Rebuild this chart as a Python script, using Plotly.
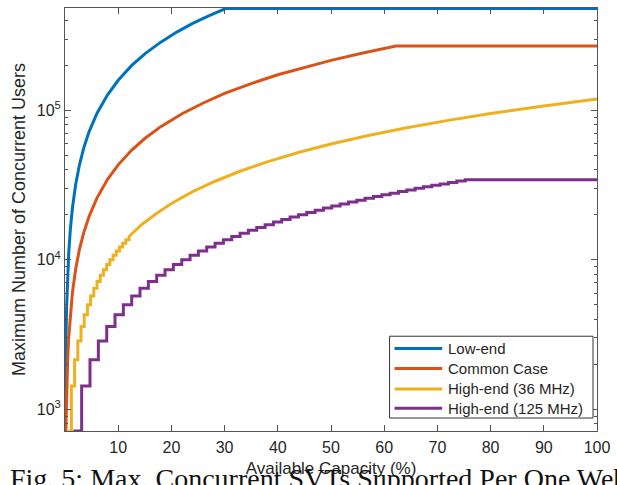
import plotly.graph_objects as go

# ---------------- data ----------------
# Low-end
low_x = [0.045, 0.07, 0.1, 0.15, 0.2, 0.3, 0.4, 0.5, 0.7, 1, 1.4, 2, 2.7, 3.5, 4.5, 6, 8, 10,
         12.5, 15, 18, 21, 24, 27, 30.2, 100]
low_y = [716, 1110, 1590, 2390, 3180, 4770, 6360, 7950, 11100, 15900, 22300, 31800, 42900, 55700,
         71600, 95400, 127000, 159000, 199000, 239000, 286000, 334000, 382000, 429000, 480000, 480000]

# Common Case
com_x = [0.166, 0.25, 0.35, 0.5, 0.7, 1, 1.4, 2, 2.7, 3.5, 4.5, 6, 8, 10, 12.5, 15, 18, 22, 26, 30,
         35, 40, 45, 50, 56, 62.2, 100]
com_y = [716, 1080, 1510, 2160, 3020, 4320, 6050, 8640, 11700, 15100, 19400, 25900, 34600, 43200,
         54000, 64800, 77800, 95000, 112000, 130000, 151000, 173000, 194000, 216000, 242000,
         269000, 269000]

# High-end (36 MHz): visible steps at low capacity, then the upper part of the curve
hi36_step_x = [0.60, 1.20, 1.81, 2.41, 3.01, 3.61, 4.21, 4.82, 5.42, 6.02, 6.62, 7.22, 7.83,
               8.43, 9.03, 9.63, 10.23, 10.84, 11.44, 12.04]
hi36_step_y = [716, 1432, 2148, 2864, 3580, 4296, 5012, 5728, 6444, 7160, 7876, 8592, 9308,
               10024, 10740, 11456, 12172, 12888, 13604, 14320]
hi36_tail_x = [13, 14.5, 17, 20, 24, 28, 33, 38, 44, 50, 57, 64, 72, 80, 90, 100]
hi36_tail_y = [15500, 17300, 20200, 23800, 28600, 33300, 39300, 45200, 52400, 59500, 67800,
               76200, 85700, 95200, 107000, 119000]

# High-end (125 MHz): staircase
hi125_x = [1.57, 3.13, 4.70, 6.27, 7.84, 9.40, 10.97, 12.54, 14.10, 15.67, 17.24, 18.80, 20.37,
           21.94, 23.51, 25.07, 26.64, 28.21, 29.77, 31.34, 32.91, 34.47, 36.04, 37.61, 39.18,
           40.74, 42.31, 43.88, 45.44, 47.01, 48.58, 50.14, 51.71, 53.28, 54.85, 56.41, 57.98,
           59.55, 61.11, 62.68, 64.25, 65.81, 67.38, 68.95, 70.52, 72.08, 73.65, 75.22, 100]
hi125_y = [716, 1432, 2148, 2864, 3580, 4296, 5012, 5728, 6444, 7160, 7876, 8592, 9308, 10024,
           10740, 11456, 12172, 12888, 13604, 14320, 15036, 15752, 16468, 17184, 17900, 18616,
           19332, 20048, 20764, 21480, 22196, 22912, 23628, 24344, 25060, 25776, 26492, 27208,
           27924, 28640, 29356, 30072, 30788, 31504, 32220, 32936, 33652, 34368, 34368]

names = ["Low-end", "Common Case", "High-end (36 MHz)", "High-end (125 MHz)"]
colors = ["#0072BD", "#D95319", "#EDB120", "#7E2F8E"]

x_ticks = [10, 20, 30, 40, 50, 60, 70, 80, 90, 100]
y_ticks = [1000, 10000, 100000]
y_ticktext = ["10<sup>3</sup>", "10<sup>4</sup>", "10<sup>5</sup>"]
y_minor = [800, 900] + [m * 1000 for m in range(2, 10)] + [m * 10000 for m in range(2, 10)] + \
          [200000, 300000, 400000]

# build the 36 MHz staircase path from the step readings
h36x, h36y = [], []
prev = None
for sx, sy in zip(hi36_step_x, hi36_step_y):
    if prev is not None:
        h36x.append(sx)
        h36y.append(prev)
    h36x.append(sx)
    h36y.append(sy)
    prev = sy
h36x += hi36_tail_x
h36y += hi36_tail_y

fig = go.Figure()
fig.add_trace(go.Scatter(x=low_x, y=low_y, mode="lines", name=names[0],
                         line=dict(color=colors[0], width=3)))
fig.add_trace(go.Scatter(x=com_x, y=com_y, mode="lines", name=names[1],
                         line=dict(color=colors[1], width=3)))
fig.add_trace(go.Scatter(x=h36x, y=h36y, mode="lines", name=names[2],
                         line=dict(color=colors[2], width=3)))
fig.add_trace(go.Scatter(x=hi125_x, y=hi125_y, mode="lines", name=names[3],
                         line=dict(color=colors[3], width=3, shape="hv")))

axcol = "#555555"
fontfam = "Liberation Sans, Arial, sans-serif"
W, H = 617, 485
ml, mr, mt, mb = 65, 16, 7, 54
pw, ph = W - ml - mr, H - mt - mb


def px(xp):
    return (xp - ml) / pw


def py(yp):
    return (H - mb - yp) / ph


fig.update_layout(
    width=W, height=H,
    margin=dict(l=ml, r=mr, t=mt, b=mb),
    paper_bgcolor="white", plot_bgcolor="white",
    font=dict(family=fontfam, size=16, color="#262626"),
    showlegend=False,
)
fig.update_xaxes(
    range=[0, 100], tickmode="array", tickvals=x_ticks,
    ticks="inside", ticklen=6, tickcolor=axcol, showline=True, linecolor=axcol, linewidth=1,
    mirror="ticks", showgrid=False, zeroline=False,
    title=dict(text="Available Capacity (%)", font=dict(size=17), standoff=6),
    tickfont=dict(size=16), ticklabelstandoff=2,
)
fig.update_yaxes(
    type="log", range=[2.8549, 5.6848], tickmode="array", tickvals=y_ticks, ticktext=y_ticktext,
    ticks="inside", ticklen=6, tickcolor=axcol, showline=True, linecolor=axcol, linewidth=1,
    mirror="ticks", showgrid=False, zeroline=False,
    minor=dict(tickmode="array", tickvals=y_minor, ticks="inside", ticklen=3, tickcolor=axcol,
               showgrid=False),
    title=dict(text="Maximum Number of Concurrent Users", font=dict(size=18), standoff=6),
    tickfont=dict(size=16),
)

# legend box drawn in the lower right corner of the axes
fig.add_shape(type="rect", xref="paper", yref="paper",
              x0=px(392), x1=px(597), y0=py(418), y1=py(336),
              line=dict(color="#333333", width=1), fillcolor="white", layer="above")
rows = [348.3, 368.3, 388.8, 408.3]
for name, col, r in zip(names, colors, rows):
    fig.add_shape(type="line", xref="paper", yref="paper",
                  x0=px(397), x1=px(445), y0=py(r), y1=py(r),
                  line=dict(color=col, width=3), layer="above")
    fig.add_annotation(text=name, xref="paper", yref="paper", x=px(449), y=py(r),
                       xanchor="left", yanchor="middle", showarrow=False,
                       font=dict(size=15, family=fontfam, color="#262626"))

fig.add_annotation(
    text="Fig. 5: Max. Concurrent SVTs Supported Per One Web",
    xref="paper", yref="paper", x=px(8), xanchor="left",
    y=py(496), yanchor="bottom", showarrow=False,
    font=dict(family="Liberation Serif, Times New Roman, serif", size=28, color="#111111"),
)

fig.write_html("out.html")
